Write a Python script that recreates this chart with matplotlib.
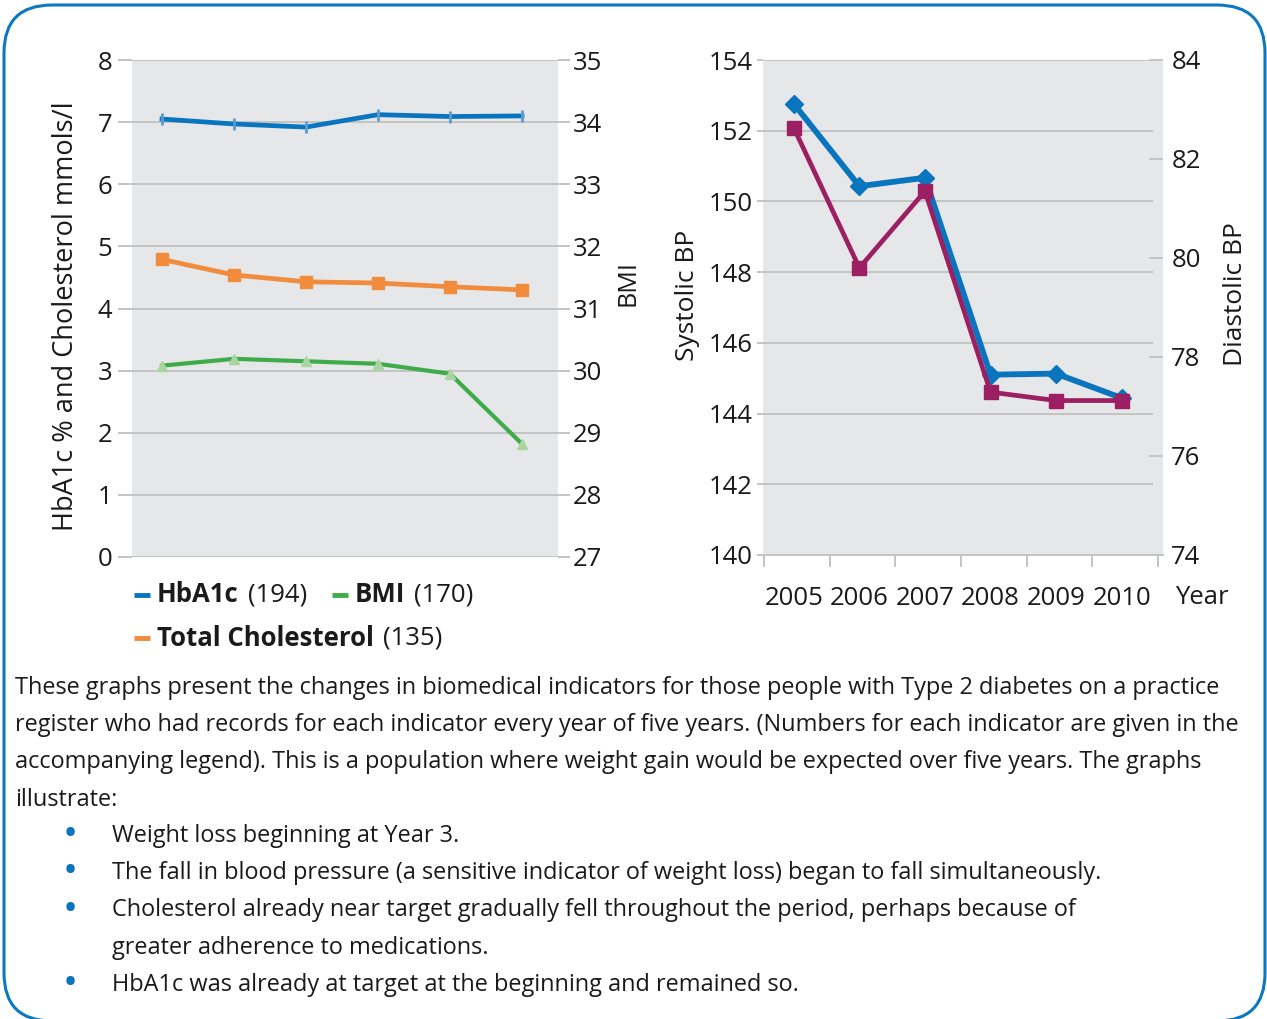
import matplotlib
matplotlib.use("Agg")
import matplotlib.pyplot as plt
from matplotlib.patches import FancyBboxPatch
from matplotlib.lines import Line2D

plt.rcParams['font.family'] = ['Open Sans', 'DejaVu Sans']

# ---- data ----
years = ['2005', '2006', '2007', '2008', '2009', '2010']
hba1c = [7.05, 6.97, 6.92, 7.12, 7.09, 7.10]
cholesterol = [4.79, 4.54, 4.43, 4.41, 4.35, 4.30]
bmi = [30.08, 30.19, 30.15, 30.11, 29.95, 28.82]
systolic = [152.76, 150.43, 150.67, 145.10, 145.13, 144.44]
diastolic = [82.63, 79.80, 81.35, 77.29, 77.12, 77.12]

left_ticks = list(range(0, 9))
bmi_ticks = list(range(27, 36))
sys_ticks = list(range(140, 155, 2))
dia_ticks = list(range(74, 85, 2))

legend_names = ['HbA1c', 'BMI', 'Total Cholesterol']
legend_counts = ['(194)', '(170)', '(135)']

body_lines = [
    "These graphs present the changes in biomedical indicators for those people with Type 2 diabetes on a practice",
    "register who had records for each indicator every year of five years. (Numbers for each indicator are given in the",
    "accompanying legend). This is a population where weight gain would be expected over five years. The graphs",
    "illustrate:",
]
bullet_items = [
    ["Weight loss beginning at Year 3."],
    ["The fall in blood pressure (a sensitive indicator of weight loss) began to fall simultaneously."],
    ["Cholesterol already near target gradually fell throughout the period, perhaps because of",
     "greater adherence to medications."],
    ["HbA1c was already at target at the beginning and remained so."],
]

# ---- colours ----
BLUE = '#0a75bf'
LIGHTBLUE = '#5b9bd5'
ORANGE = '#f08c3c'
GREEN = '#3eac4a'
LIGHTGREEN = '#a9d6a0'
PURPLE = '#9d1f63'
PANEL = '#e6e7e8'
GRID = '#c4c4c4'
TXT = '#1a1a1a'
BORDER = '#0a78c2'

TICK_FS = 18.5
TITLE_FS = 19
LEG_FS = 18.5

W, H = 1267, 1019
fig = plt.figure(figsize=(W / 100, H / 100), dpi=100)


def fx(x):
    return x / W


def fy(y):
    return 1 - y / H


# rounded frame
frame = FancyBboxPatch((0.04, -0.02), 12.61, 10.16,
                       boxstyle="round,pad=0,rounding_size=0.48",
                       transform=fig.dpi_scale_trans, fill=False,
                       edgecolor=BORDER, linewidth=2.2, zorder=0)
fig.add_artist(frame)

x = list(range(len(years)))

# ---- left chart ----
ax1 = fig.add_axes([fx(132), fy(557), (558 - 132) / W, (557 - 60) / H])
ax1.set_facecolor(PANEL)
ax1.set_xlim(-0.417, 5.5)
ax1.set_ylim(0, 8)
ax1.set_yticks(left_ticks)
ax1.set_xticks([])
ax1.grid(axis='y', color=GRID, linewidth=1.4)
ax1.set_axisbelow(True)
ax1.tick_params(axis='y', length=10, width=1.4, color=GRID, pad=4,
                labelsize=TICK_FS, labelcolor=TXT)
for s in ax1.spines.values():
    s.set_visible(False)

ax1.plot(x, hba1c, color=BLUE, lw=3.4, marker='|', ms=8, mew=2,
         mec=LIGHTBLUE, zorder=3)
ax1.plot(x, cholesterol, color=ORANGE, lw=3.4, marker='s', ms=8.5,
         mfc=ORANGE, mec=ORANGE, zorder=3)

ax1r = ax1.twinx()
ax1r.set_ylim(27, 35)
ax1r.set_yticks(bmi_ticks)
ax1r.tick_params(axis='y', length=8.5, width=1.4, color=GRID, pad=2,
                 labelsize=TICK_FS, labelcolor=TXT)
for s in ax1r.spines.values():
    s.set_visible(False)
ax1r.plot(x, bmi, color=GREEN, lw=3, marker='^', ms=7.5,
          mfc=LIGHTGREEN, mec=LIGHTGREEN, zorder=3)

fig.text(fx(66), fy(316), "HbA1c % and Cholesterol mmols/l", rotation=90,
         ha='center', va='center', fontsize=TITLE_FS + 0.5, color=TXT)
fig.text(fx(628), fy(283), "BMI", rotation=90, ha='center', va='center',
         fontsize=TITLE_FS - 1, color=TXT)

# ---- right chart ----
ax2 = fig.add_axes([fx(763), fy(555), 400 / W, (555 - 60) / H])
ax2.set_facecolor(PANEL)
ax2.set_xlim(-0.47, 5.63)
ax2.set_ylim(140, 154)
ax2.set_yticks(sys_ticks)
ax2.hlines(sys_ticks, 0, 0.975, transform=ax2.get_yaxis_transform(),
           color=GRID, linewidth=1.4, zorder=1)
ax2.tick_params(axis='y', length=4.5, width=1.4, color=GRID, pad=3,
                labelsize=TICK_FS, labelcolor=TXT)
for s in ax2.spines.values():
    s.set_visible(False)
ax2.spines['bottom'].set_visible(True)
ax2.spines['bottom'].set_color(GRID)
ax2.spines['bottom'].set_linewidth(1.4)
ax2.set_xticks(x)
ax2.set_xticklabels(years)
ax2.set_xticks([k - 0.45 for k in range(len(years) + 1)], minor=True)
ax2.tick_params(axis='x', which='major', length=0, pad=22, labelsize=18.5,
                labelcolor=TXT)
ax2.tick_params(axis='x', which='minor', length=8.5, width=1.4, color=GRID)

ax2.plot(x, systolic, color=BLUE, lw=4.2, marker='D', ms=9.5,
         mfc=BLUE, mec=BLUE, zorder=3)

ax2r = ax2.twinx()
ax2r.set_ylim(74, 84)
ax2r.set_yticks(dia_ticks)
ax2r.tick_params(axis='y', direction='in', length=10, width=1.4, color=GRID,
                 pad=6, labelsize=TICK_FS, labelcolor=TXT)
for s in ax2r.spines.values():
    s.set_visible(False)
ax2r.plot(x, diastolic, color=PURPLE, lw=3.4, marker='s', ms=10,
          mfc=PURPLE, mec=PURPLE, zorder=3)

fig.text(fx(688), fy(295), "Systolic BP", rotation=90, ha='center',
         va='center', fontsize=TITLE_FS, color=TXT)
fig.text(fx(1236), fy(294), "Diastolic BP", rotation=90, ha='center',
         va='center', fontsize=TITLE_FS, color=TXT)
fig.text(fx(1202), fy(598), "Year", ha='center', va='center',
         fontsize=18.5, color=TXT)

# ---- legend (mixed bold / regular) ----
renderer = fig.canvas.get_renderer()


def legend_entry(x0, y0, color, name, count):
    fig.add_artist(Line2D([fx(x0), fx(x0 + 16)], [fy(y0), fy(y0)],
                          color=color, lw=3.5, solid_capstyle='butt'))
    t = fig.text(fx(x0 + 23), fy(y0), name, ha='left', va='center',
                 fontsize=LEG_FS, fontweight='bold', color=TXT)
    bb = t.get_window_extent(renderer)
    fig.text(fx(bb.x1 + 9), fy(y0), count, ha='left', va='center',
             fontsize=LEG_FS, color=TXT)


legend_entry(134, 595, BLUE, legend_names[0], legend_counts[0])
legend_entry(332, 595, GREEN, legend_names[1], legend_counts[1])
legend_entry(134, 638, ORANGE, legend_names[2], legend_counts[2])

# ---- body text, sized so the first line spans the reference width ----
probe = fig.text(0, 0, body_lines[0], fontsize=17)
wpx = probe.get_window_extent(renderer).width
probe.remove()
body_size = 17 * (1222 - 15) / wpx

for i, line in enumerate(body_lines):
    fig.text(fx(15), fy(688 + 37.2 * i), line, ha='left', va='center',
             fontsize=body_size, color=TXT)

row = 0
for item in bullet_items:
    yb = 836 + 37.2 * row
    fig.text(fx(70), fy(yb), "\u2022", ha='center', va='center',
             fontsize=body_size * 1.7, color=BLUE)
    for line in item:
        fig.text(fx(112), fy(836 + 37.2 * row), line, ha='left', va='center',
                 fontsize=body_size, color=TXT)
        row += 1

fig.savefig("out.png", dpi=100)
